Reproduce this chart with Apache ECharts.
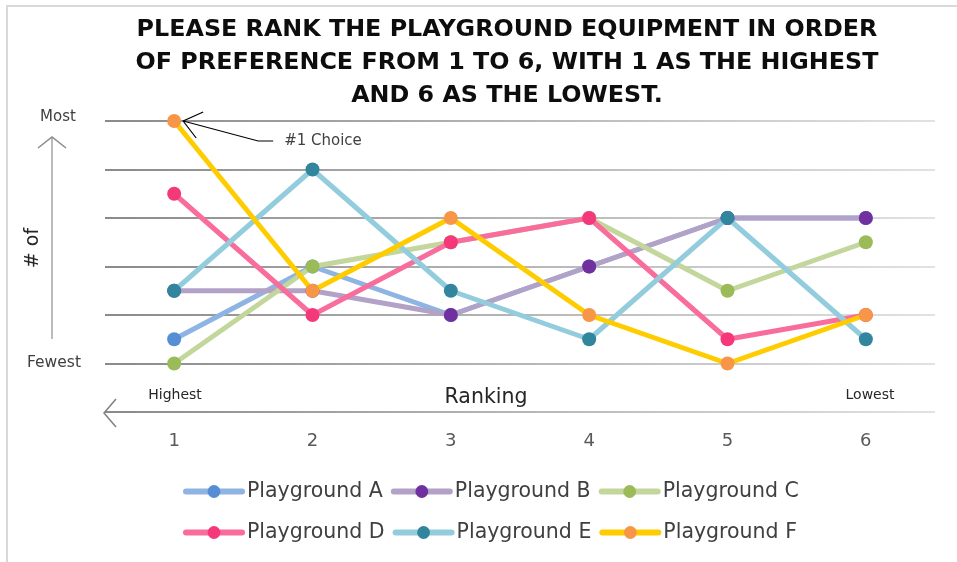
<!DOCTYPE html>
<html>
<head>
<meta charset="utf-8">
<script src="https://cdn.jsdelivr.net/npm/echarts@6/dist/echarts.min.js"></script>
<style>
  html, body { margin: 0; padding: 0; background: #fff; }
  #main { width: 957px; height: 562px; }
</style>
</head>
<body>
<div id="main"></div>
<script>
// rankings 1..6 along the x axis
const rankings = ['1', '2', '3', '4', '5', '6'];
const seriesNames = ['Playground A', 'Playground B', 'Playground C', 'Playground D', 'Playground E', 'Playground F'];
// "# of" responses (0 = axis, 1 = fewest, 6 = most)
const playgroundA = [1.5, 3, 2, 3, 4, 4];
const playgroundB = [2.5, 2.5, 2, 3, 4, 4];
const playgroundC = [1, 3, 3.5, 4, 2.5, 3.5];
const playgroundD = [4.5, 2, 3.5, 4, 1.5, 2];
const playgroundE = [2.5, 5, 2.5, 1.5, 4, 1.5];
const playgroundF = [6, 2.5, 4, 2, 1, 2];
const yTicks = [0, 1, 2, 3, 4, 5, 6];

const lineColors = ['#8DB4E2', '#B3A2C7', '#C3D69B', '#F96D9C', '#93CDDD', '#FFCC00'];
const markerColors = ['#558ED5', '#7030A0', '#9BBB59', '#F5387A', '#31859C', '#F79646'];
const allData = [playgroundA, playgroundB, playgroundC, playgroundD, playgroundE, playgroundF];

const FONT = '"DejaVu Sans", sans-serif';

let myChart = echarts.init(document.getElementById('main'));

const gridGrad = new echarts.graphic.LinearGradient(0, 0, 1, 0, [
  { offset: 0, color: '#8a8a8a' },
  { offset: 1, color: '#e2e2e2' }
]);

const legendBase = {
  left: 183, padding: 0,
  itemWidth: 56, itemHeight: 16, itemGap: 8,
  lineStyle: { width: 6, cap: 'round' },
  textStyle: { fontSize: 20.5, color: '#404040', fontFamily: FONT }
};

myChart.setOption({
  animation: false,
  backgroundColor: '#fff',
  grid: { left: 105, right: 22, top: 121, bottom: 150 },
  xAxis: {
    type: 'category',
    data: rankings,
    boundaryGap: true,
    axisLine: { show: false },
    axisTick: { show: false },
    axisLabel: { margin: 20, fontSize: 18, color: '#595959', fontFamily: FONT }
  },
  yAxis: {
    type: 'value',
    min: yTicks[0],
    max: yTicks[yTicks.length - 1],
    interval: 1,
    axisLine: { show: false },
    axisTick: { show: false },
    axisLabel: { show: false },
    splitLine: { lineStyle: { color: gridGrad, width: 2 } }
  },
  legend: [
    Object.assign({ data: seriesNames.slice(0, 3), top: 481 }, legendBase),
    Object.assign({ data: seriesNames.slice(3), top: 522 }, legendBase)
  ],
  series: seriesNames.map((name, i) => ({
    name: name,
    type: 'line',
    data: allData[i],
    symbol: 'circle',
    symbolSize: 14,
    lineStyle: { color: lineColors[i], width: 5 },
    itemStyle: { color: markerColors[i] },
    z: 2 + i * 0.1
  }))
});

// annotations placed relative to the #1 choice point
const top1 = myChart.convertToPixel({ seriesIndex: 5 }, [0, playgroundF[0]]);
const tx = top1[0] + 9, ty = top1[1];

myChart.setOption({
  graphic: [
    { type: 'rect', silent: true, shape: { x: 7, y: 6, width: 1000, height: 600 },
      style: { fill: 'none', stroke: '#d9d9d9', lineWidth: 2 } },
    { type: 'text', x: 507, y: 13, silent: true,
      style: {
        text: 'PLEASE RANK THE PLAYGROUND EQUIPMENT IN ORDER\nOF PREFERENCE FROM 1 TO 6, WITH 1 AS THE HIGHEST\nAND 6 AS THE LOWEST.',
        font: 'bold 23.8px ' + FONT, fill: '#0d0d0d', align: 'center', lineHeight: 33
      } },
    // #1 choice callout
    { type: 'polyline', silent: true,
      shape: { points: [[tx + 90, ty + 20], [tx + 75, ty + 20], [tx, ty]] },
      style: { stroke: '#000', lineWidth: 1.2, fill: 'none' } },
    { type: 'polyline', silent: true,
      shape: { points: [[tx + 20, ty - 9], [tx, ty], [tx + 13, ty + 17]] },
      style: { stroke: '#000', lineWidth: 1.2, fill: 'none' } },
    { type: 'text', silent: true, x: tx + 101, y: ty + 20,
      style: { text: '#1 Choice', font: '15px ' + FONT, fill: '#404040', verticalAlign: 'middle' } },
    // y direction arrow
    { type: 'polyline', silent: true,
      shape: { points: [[52, 339], [52, 137]] },
      style: { stroke: '#a6a6a6', lineWidth: 1.5, fill: 'none' } },
    { type: 'polyline', silent: true,
      shape: { points: [[38, 148], [52, 137], [66, 148]] },
      style: { stroke: '#8a8a8a', lineWidth: 1.5, fill: 'none' } },
    { type: 'text', silent: true, x: 58, y: 117,
      style: { text: 'Most', font: '15px ' + FONT, fill: '#404040', align: 'center', verticalAlign: 'middle' } },
    { type: 'text', silent: true, x: 54, y: 363,
      style: { text: 'Fewest', font: '15.5px ' + FONT, fill: '#404040', align: 'center', verticalAlign: 'middle' } },
    { type: 'text', silent: true, x: 33, y: 248, rotation: Math.PI / 2,
      style: { text: '# of', font: '19px ' + FONT, fill: '#262626', align: 'center', verticalAlign: 'middle' } },
    // x direction arrow head
    { type: 'polyline', silent: true,
      shape: { points: [[116, 399], [104, 413], [116, 427]] },
      style: { stroke: '#7f7f7f', lineWidth: 1.5, fill: 'none' } },
    { type: 'text', silent: true, x: 175, y: 395,
      style: { text: 'Highest', font: '14px ' + FONT, fill: '#262626', align: 'center', verticalAlign: 'middle' } },
    { type: 'text', silent: true, x: 870, y: 395,
      style: { text: 'Lowest', font: '14px ' + FONT, fill: '#262626', align: 'center', verticalAlign: 'middle' } },
    { type: 'text', silent: true, x: 486, y: 398,
      style: { text: 'Ranking', font: '20.5px ' + FONT, fill: '#262626', align: 'center', verticalAlign: 'middle' } }
  ]
});
</script>
</body>
</html>
